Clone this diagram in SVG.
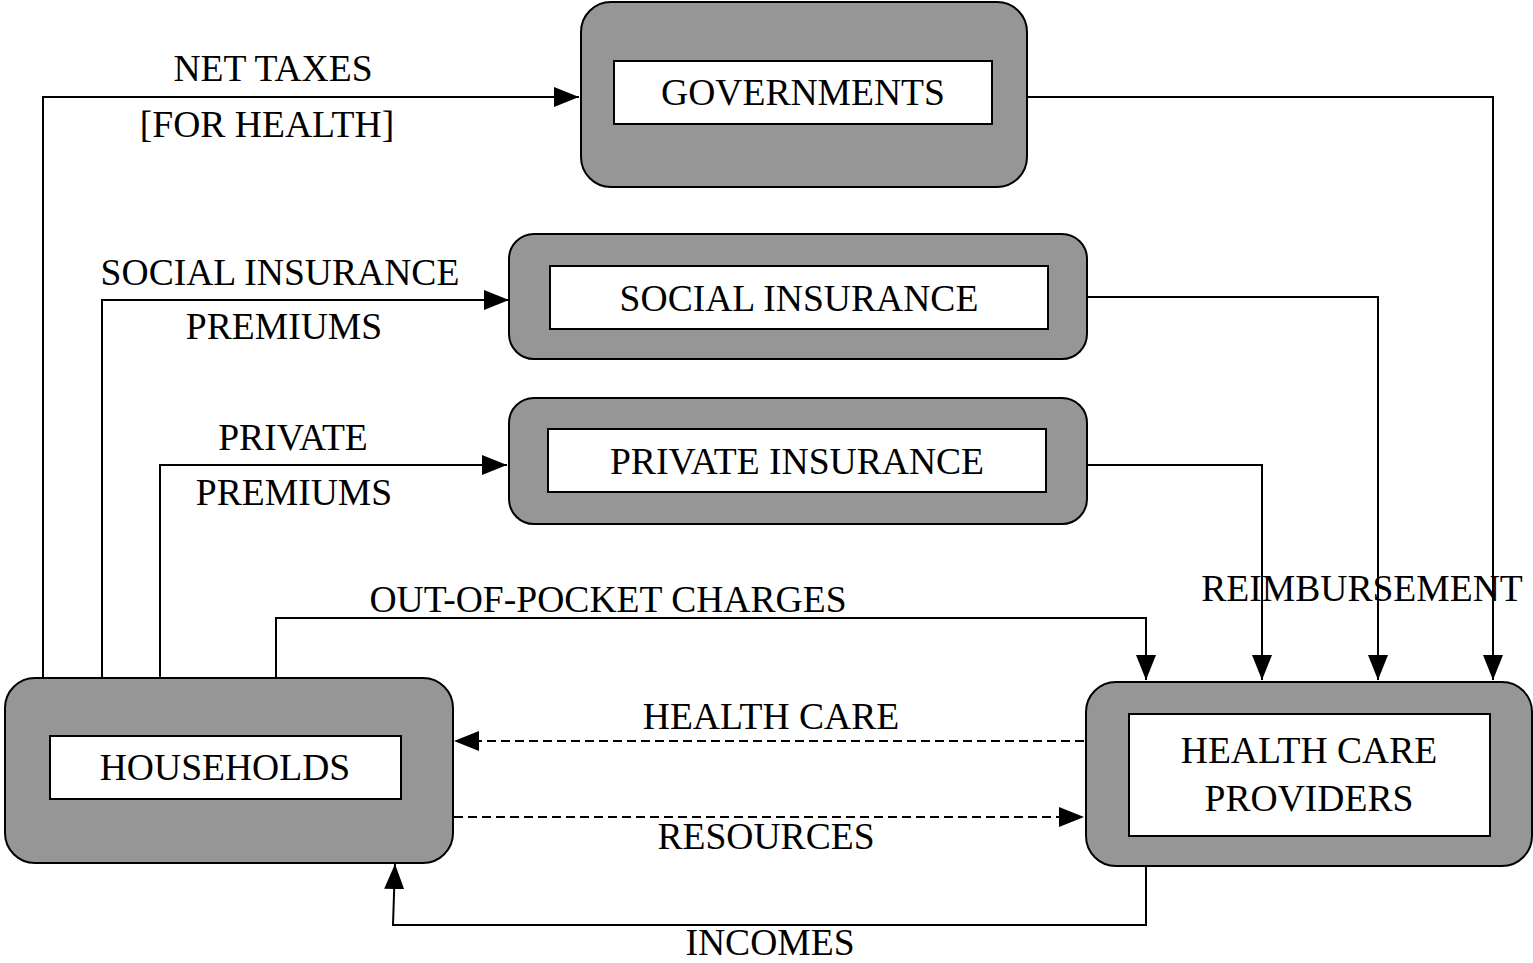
<svg xmlns="http://www.w3.org/2000/svg" width="1533" height="963" viewBox="0 0 1533 963">
<style>
.outer{fill:#969696;stroke:#000;stroke-width:2}
.inner{fill:#fff;stroke:#000;stroke-width:2}
.t{font-family:"Liberation Serif","Times New Roman",serif;font-size:37.6px;fill:#000;text-anchor:middle}
.c{fill:none;stroke:#000;stroke-width:2}
.d{stroke-dasharray:9,5}
</style>
<defs>
<marker id="ah" markerUnits="userSpaceOnUse" markerWidth="26" markerHeight="20" refX="25" refY="10" orient="auto">
<path d="M0,0 L25,10 L0,20 Z" fill="#000"/>
</marker>
</defs>
<rect width="1533" height="963" fill="#fff"/>
<g id="governments">
<rect class="outer" x="581" y="2" width="446" height="185" rx="30" ry="30"/>
<rect class="inner" x="614" y="61" width="378" height="63"/>
<text class="t" x="803" y="105">GOVERNMENTS</text>
</g>
<g id="social-insurance">
<rect class="outer" x="509" y="234" width="578" height="125" rx="25" ry="25"/>
<rect class="inner" x="550" y="266" width="498" height="63"/>
<text class="t" x="799" y="311">SOCIAL INSURANCE</text>
</g>
<g id="private-insurance">
<rect class="outer" x="509" y="398" width="578" height="126" rx="25" ry="25"/>
<rect class="inner" x="548" y="429" width="498" height="63"/>
<text class="t" x="797" y="474">PRIVATE INSURANCE</text>
</g>
<g id="households">
<rect class="outer" x="5" y="678" width="448" height="185" rx="30" ry="30"/>
<rect class="inner" x="50" y="736" width="351" height="63"/>
<text class="t" x="225" y="780">HOUSEHOLDS</text>
</g>
<g id="health-care-providers">
<rect class="outer" x="1086" y="682" width="446" height="184" rx="30" ry="30"/>
<rect class="inner" x="1129" y="714" width="361" height="122"/>
<text class="t" x="1309" y="763">HEALTH CARE</text>
<text class="t" x="1309" y="811">PROVIDERS</text>
</g>
<g id="connectors">
<polyline class="c" points="43,678 43,97 579,97" marker-end="url(#ah)"/>
<polyline class="c" points="102,678 102,300 509,300" marker-end="url(#ah)"/>
<polyline class="c" points="160,678 160,465 507,465" marker-end="url(#ah)"/>
<polyline class="c" points="276,678 276,618 1146,618 1146,680" marker-end="url(#ah)"/>
<polyline class="c" points="1027,97 1493,97 1493,680" marker-end="url(#ah)"/>
<polyline class="c" points="1088,297 1378,297 1378,680" marker-end="url(#ah)"/>
<polyline class="c" points="1087,465 1262,465 1262,680" marker-end="url(#ah)"/>
<line class="c d" x1="1084" y1="741" x2="454" y2="741" marker-end="url(#ah)"/>
<line class="c d" x1="454" y1="817" x2="1084" y2="817" marker-end="url(#ah)"/>
<polyline class="c" points="1146,866 1146,925 393,925 395,864" marker-end="url(#ah)"/>
</g>
<g id="labels">
<text class="t" x="273" y="81">NET TAXES</text>
<text class="t" x="267" y="137">[FOR HEALTH]</text>
<text class="t" x="280" y="285">SOCIAL INSURANCE</text>
<text class="t" x="284" y="339">PREMIUMS</text>
<text class="t" x="293" y="450">PRIVATE</text>
<text class="t" x="294" y="505">PREMIUMS</text>
<text class="t" x="608" y="612">OUT-OF-POCKET CHARGES</text>
<text class="t" x="1362" y="601">REIMBURSEMENT</text>
<text class="t" x="771" y="729">HEALTH CARE</text>
<text class="t" x="766" y="849">RESOURCES</text>
<text class="t" x="770" y="955">INCOMES</text>
</g>
</svg>
